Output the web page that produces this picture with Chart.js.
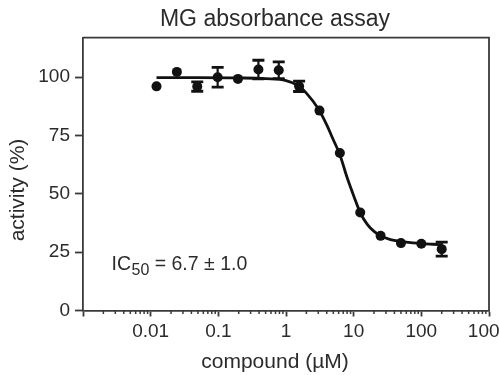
<!DOCTYPE html>
<html><head><meta charset="utf-8">
<script src="https://cdn.jsdelivr.net/npm/chart.js@4/dist/chart.umd.min.js"></script>
<style>html,body{margin:0;padding:0;overflow:hidden;background:#fff;width:499px;height:375px}
#wrap{width:550px;height:375px;position:relative}</style></head>
<body><div id="wrap"><canvas id="c" width="550" height="375"></canvas></div>
<script>
// ---- data ----
const concentrations = [0.0122, 0.0244, 0.0488, 0.0977, 0.195, 0.391, 0.781, 1.5625, 3.125, 6.25, 12.5, 25, 50, 100, 200];
const activity       = [96.1, 102.3, 96.0, 100.0, 99.3, 103.3, 103.0, 96.1, 85.7, 67.5, 42.0, 32.0, 28.9, 28.6, 26.3];
const errors         = [0, 0, 2, 4.2, 0, 4, 3.6, 2.2, 0, 0, 0, 0, 0, 0, 3];
const fitConc        = [0.0122, 0.05, 0.2, 0.5, 1, 1.5, 2, 3, 4, 5, 6.25, 8, 10, 12.5, 16, 20, 25, 35, 50, 75, 100, 150, 200];
const fitActivity    = [99.8, 99.8, 99.7, 99.4, 98.6, 96.5, 93.2, 86.5, 79.6, 73.2, 66.8, 57.0, 49.2, 42.0, 36.8, 33.9, 32.0, 30.4, 29.6, 29.0, 28.7, 28.4, 28.2];
const xTickValues    = [0.001, 0.01, 0.1, 1, 10, 100, 1000];
const xTickLabels    = ['', '0.01', '0.1', '1', '10', '100', '1000'];
const minorMultipliers = [2, 3, 4, 5, 6, 7, 8, 9];
const yTickValues    = [0, 25, 50, 75, 100];
const yTickLabels    = ['0', '25', '50', '75', '100'];
const titleText = 'MG absorbance assay';
const xTitle = 'compound (\u00B5M)';
const yTitle = 'activity (%)';
const icMain = 'IC', icSub = '50', icRest = ' = 6.7 \u00B1 1.0';

// ---- styling ----
const FONT = "'Liberation Sans', Arial, Helvetica, sans-serif";
const TEXT = '#2b2b2b';
const AXIS = '#3a3a3a';
const MARK = '#111111';
Chart.defaults.font.family = FONT;
Chart.defaults.color = TEXT;

const points = concentrations.map((c, i) => ({x: c, y: activity[i]}));
const fit = fitConc.map((c, i) => ({x: c, y: fitActivity[i]}));
const errData = [];
concentrations.forEach((c, i) => {
  if (errors[i] > 0) {
    errData.push({x: c, y: activity[i] - errors[i]});
    errData.push({x: c, y: activity[i] + errors[i]});
    errData.push({x: c, y: null});
  }
});

const framePlugin = {
  id: 'frame',
  afterDraw(chart) {
    const {ctx, chartArea: a, scales} = chart;
    ctx.save();
    ctx.strokeStyle = AXIS; ctx.lineWidth = 1.8;
    ctx.beginPath();
    ctx.moveTo(a.left, a.top); ctx.lineTo(a.right, a.top); ctx.lineTo(a.right, a.bottom);
    ctx.stroke();
    // minor log ticks
    const xs = scales.x;
    ctx.lineWidth = 1.5;
    for (let d = 0; d < xTickValues.length - 1; d++) {
      for (const m of minorMultipliers) {
        const px = xs.getPixelForValue(xTickValues[d] * m);
        ctx.beginPath(); ctx.moveTo(px, a.bottom); ctx.lineTo(px, a.bottom + 3.5); ctx.stroke();
      }
    }
    // y axis title
    ctx.fillStyle = TEXT;
    ctx.save();
    ctx.translate(18, 190);
    ctx.rotate(-Math.PI / 2);
    ctx.font = '21px ' + FONT; ctx.textAlign = 'center'; ctx.textBaseline = 'middle';
    ctx.fillText(yTitle, 0, 0);
    ctx.restore();
    // IC50 annotation
    ctx.textBaseline = 'alphabetic'; ctx.textAlign = 'left';
    let x = a.left + 28.5; const y = a.bottom - 40.5;
    ctx.font = '19.5px ' + FONT; ctx.fillText(icMain, x, y); x += ctx.measureText(icMain).width + 0.5;
    ctx.font = '16px ' + FONT; ctx.fillText(icSub, x, y + 5); x += ctx.measureText(icSub).width;
    ctx.font = '19.5px ' + FONT; ctx.fillText(icRest, x, y);
    ctx.restore();
  }
};

new Chart(document.getElementById('c'), {
  type: 'line',
  data: {
    datasets: [
      {data: points, showLine: false, pointRadius: 5, pointBackgroundColor: MARK, pointBorderWidth: 0, order: 0},
      {data: errData, borderColor: MARK, borderWidth: 2.2, pointStyle: 'line', pointRadius: 6, pointBorderWidth: 2.8, pointBorderColor: MARK, spanGaps: false, order: 1},
      {data: fit, borderColor: MARK, borderWidth: 2.8, pointRadius: 0, cubicInterpolationMode: 'monotone', order: 2}
    ]
  },
  options: {
    responsive: false, animation: false, devicePixelRatio: 1,
    layout: {padding: 0},
    plugins: {
      legend: {display: false}, tooltip: {enabled: false},
      title: {display: true, text: titleText, color: TEXT, font: {size: 23, weight: 'normal'}, padding: {top: 6, bottom: 4}},
      subtitle: {display: true, position: 'bottom', text: xTitle, color: TEXT, font: {size: 21, weight: 'normal'}, padding: {top: 0, bottom: 0}}
    },
    scales: {
      x: {
        type: 'logarithmic', min: 0.001, max: 1000,
        afterBuildTicks(s) { s.ticks = xTickValues.map(v => ({value: v})); },
        afterFit(s) { s.height = 39.3; },
        grid: {drawOnChartArea: false, tickLength: 6, tickColor: AXIS, tickWidth: 1.8},
        border: {color: AXIS, width: 1.8},
        ticks: {autoSkip: false, maxRotation: 0, padding: 4, color: TEXT, font: {size: 19},
          callback(v, i) { return xTickLabels[i]; }}
      },
      y: {
        type: 'linear', min: 0, max: 117,
        afterBuildTicks(s) { s.ticks = yTickValues.map(v => ({value: v})); },
        afterFit(s) { s.width = 83; },
        grid: {drawOnChartArea: false, tickLength: 8, tickColor: AXIS, tickWidth: 1.8},
        border: {color: AXIS, width: 1.8},
        ticks: {padding: 5, color: TEXT, font: {size: 19}, callback(v, i) { return yTickLabels[i]; }}
      },
      y2: {
        type: 'linear', position: 'right', display: true,
        grid: {display: false, drawTicks: false}, border: {display: false}, ticks: {display: false},
        afterFit(s) { s.width = 61; }
      }
    }
  },
  plugins: [framePlugin]
});
</script></body></html>
